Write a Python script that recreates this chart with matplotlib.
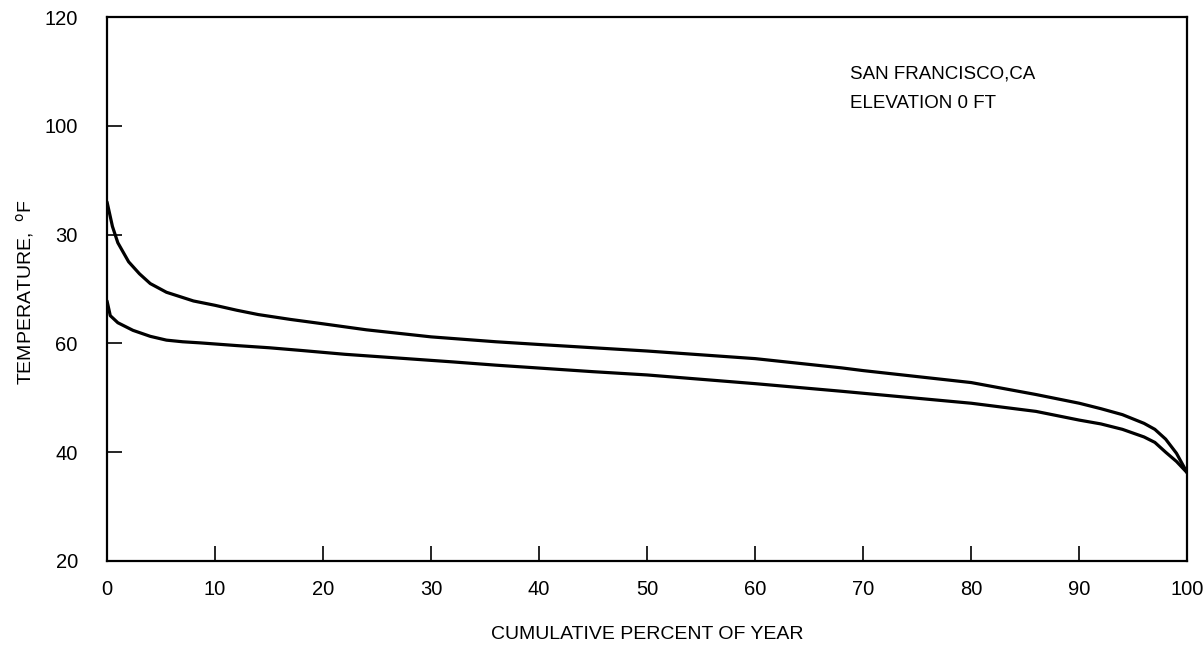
import matplotlib
matplotlib.use("Agg")
import matplotlib.pyplot as plt

# Data
x_upper = [0, 0.5, 1, 2, 3, 4, 5.5, 8, 10, 12, 14, 17, 20, 24, 30, 36, 40, 50, 60,
           68, 70, 80, 86, 90, 92, 94, 96, 97, 98, 99, 100]
t_upper = [86.0, 81.5, 78.5, 75.0, 72.8, 71.0, 69.4, 67.8, 67.0, 66.1, 65.3, 64.4,
           63.6, 62.5, 61.2, 60.3, 59.8, 58.6, 57.2, 55.5, 55.0, 52.8, 50.6, 49.0,
           48.0, 46.9, 45.3, 44.2, 42.4, 39.8, 36.2]

x_lower = [0, 0.3, 1, 2.4, 4, 5.5, 7, 8.6, 12, 15, 18, 22, 27, 32, 36, 45, 50, 60,
           68, 80, 86, 90, 92, 94, 96, 97, 98, 99, 100]
t_lower = [67.8, 65.1, 63.8, 62.4, 61.3, 60.6, 60.3, 60.1, 59.6, 59.2, 58.7, 58.0,
           57.3, 56.6, 56.0, 54.8, 54.2, 52.6, 51.2, 49.0, 47.5, 45.9, 45.2, 44.2,
           42.8, 41.8, 40.0, 38.3, 36.2]

x_ticks = [0, 10, 20, 30, 40, 50, 60, 70, 80, 90, 100]
x_ticklabels = ["0", "10", "20", "30", "40", "50", "60", "70", "80", "90", "100"]
y_ticks = [20, 40, 60, 80, 100, 120]
y_ticklabels = ["20", "40", "60", "30", "100", "120"]

plt.rcParams['font.family'] = ['Liberation Sans', 'DejaVu Sans']

fig = plt.figure(figsize=(12.04, 6.49), dpi=100)
ax = fig.add_axes([0.0889, 0.1356, 0.8972, 0.8382])

ax.plot(x_upper, t_upper, color='black', lw=2.3, solid_capstyle='round',
        solid_joinstyle='round')
ax.plot(x_lower, t_lower, color='black', lw=2.3, solid_capstyle='round',
        solid_joinstyle='round')

ax.set_xlim(0, 100)
ax.set_ylim(20, 120)
ax.set_xticks(x_ticks)
ax.set_xticklabels(x_ticklabels)
ax.set_yticks(y_ticks)
ax.set_yticklabels(y_ticklabels)

ax.tick_params(axis='both', direction='in', length=11, width=1.2, labelsize=14.5,
               color='black')
ax.tick_params(axis='x', pad=14)
ax.tick_params(axis='y', pad=21)
for s in ax.spines.values():
    s.set_linewidth(1.6)

ax.set_xlabel("CUMULATIVE PERCENT OF YEAR", fontsize=14, labelpad=19)
ax.set_ylabel(r"TEMPERATURE,  $^{\mathrm{o}}$F", fontsize=14)
ax.yaxis.set_label_coords(-0.066, 0.494)

ax.text(0.688, 0.911, "SAN FRANCISCO,CA\nELEVATION 0 FT", transform=ax.transAxes,
        fontsize=13.5, va='top', ha='left', linespacing=1.95)

fig.savefig("out.png", dpi=100)
